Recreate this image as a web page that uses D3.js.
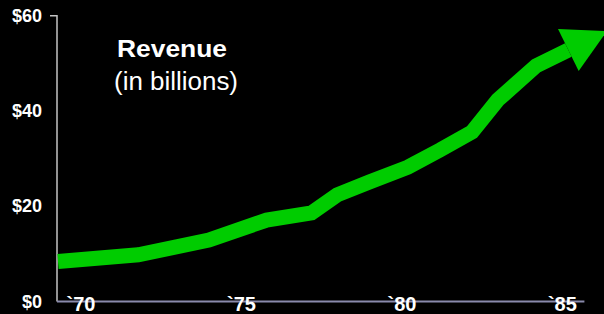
<!DOCTYPE html>
<html>
<head>
<meta charset="utf-8">
<script src="https://cdn.jsdelivr.net/npm/d3@7"></script>
<style>
  html, body { margin: 0; padding: 0; background: #000; }
  svg { display: block; }
  text { font-family: "Liberation Sans", Arial, Helvetica, sans-serif; fill: #fff; }
</style>
</head>
<body>
<svg id="chart" width="604" height="314"></svg>
<script>
// Data
const years   = [1970, 1972.5, 1974.7, 1976.5, 1977.9, 1978.7, 1979.7, 1980.9, 1981.9, 1982.9, 1983.7, 1984.9, 1985.9];
const revenue = [8.4, 9.8, 12.9, 17.1, 18.6, 22.4, 25.1, 28.2, 31.8, 35.6, 42.3, 49.5, 52.8];
const yTicks = [0, 20, 40, 60];
const xTicks = [1970, 1975, 1980, 1985];
const xTickLabels = ["`70", "`75", "`80", "`85"];
const titleText = "Revenue";
const subtitleText = "(in billions)";

const svg = d3.select("#chart");
svg.append("rect").attr("width", 604).attr("height", 314).attr("fill", "#000");

const x = d3.scaleLinear().domain([1970, 1986.4]).range([58, 584.4]);
const y = d3.scaleLinear().domain([0, 60]).range([301.5, 15.7]);

// Y axis line with top tick
svg.append("path")
  .attr("d", `M50,${y(60)}H57V${y(0)}`)
  .attr("fill", "none")
  .attr("stroke", "#c4c4c4")
  .attr("stroke-width", 1.5);

// X axis line
svg.append("line")
  .attr("x1", 57).attr("x2", x(1986.4))
  .attr("y1", y(0)).attr("y2", y(0))
  .attr("stroke", "#8a8aac")
  .attr("stroke-width", 2);

// Y axis labels
const yAxis = svg.append("g")
  .attr("transform", "translate(57,0)")
  .call(d3.axisLeft(y).tickValues(yTicks).tickFormat(d => "$" + d).tickSize(0).tickPadding(15));
yAxis.select(".domain").remove();
yAxis.selectAll("text")
  .attr("fill", "#fff")
  .style("font-size", "18px")
  .style("font-weight", "bold")
  .style("font-family", "'Liberation Sans', Arial, sans-serif");

// Revenue line
const data = years.map((yr, i) => ({ yr, v: revenue[i] }));
const line = d3.line().x(d => x(d.yr)).y(d => y(d.v));
svg.append("path")
  .datum(data)
  .attr("d", line)
  .attr("fill", "none")
  .attr("stroke", "#00cc00")
  .attr("stroke-width", 15)
  .attr("stroke-linejoin", "miter")
  .attr("stroke-linecap", "butt");

// Arrowhead at end of line
const p1 = data[data.length - 2], p2 = data[data.length - 1];
const bx = x(p2.yr), by = y(p2.v);
let dx = bx - x(p1.yr), dy = by - y(p1.v);
const len = Math.hypot(dx, dy); dx /= len; dy /= len;
const headLen = 43, headHalf = 23.5;
const tip = [bx + dx * headLen, by + dy * headLen];
const c1 = [bx - dy * headHalf, by + dx * headHalf];
const c2 = [bx + dy * headHalf, by - dx * headHalf];
svg.append("path")
  .attr("d", `M${c1[0]},${c1[1]}L${tip[0]},${tip[1]}L${c2[0]},${c2[1]}Z`)
  .attr("fill", "#00cc00");

// X axis labels (drawn above the axis line)
const xAxis = svg.append("g")
  .attr("transform", `translate(0,${y(0)})`)
  .call(d3.axisBottom(x).tickValues(xTicks).tickFormat((d, i) => xTickLabels[i]).tickSize(0));
xAxis.select(".domain").remove();
xAxis.selectAll("text")
  .attr("fill", "#fff")
  .attr("text-anchor", "start")
  .attr("dx", 8)
  .attr("dy", null)
  .attr("y", 9.5)
  .style("font-size", "20px")
  .style("font-weight", "bold")
  .style("font-family", "'Liberation Sans', Arial, sans-serif");

// Title
svg.append("text")
  .attr("x", 117).attr("y", 57)
  .attr("textLength", 110)
  .attr("lengthAdjust", "spacingAndGlyphs")
  .style("font-size", "24px")
  .style("font-weight", "bold")
  .text(titleText);
svg.append("text")
  .attr("x", 114).attr("y", 90)
  .attr("textLength", 124)
  .attr("lengthAdjust", "spacingAndGlyphs")
  .style("font-size", "26px")
  .text(subtitleText);
</script>
</body>
</html>
